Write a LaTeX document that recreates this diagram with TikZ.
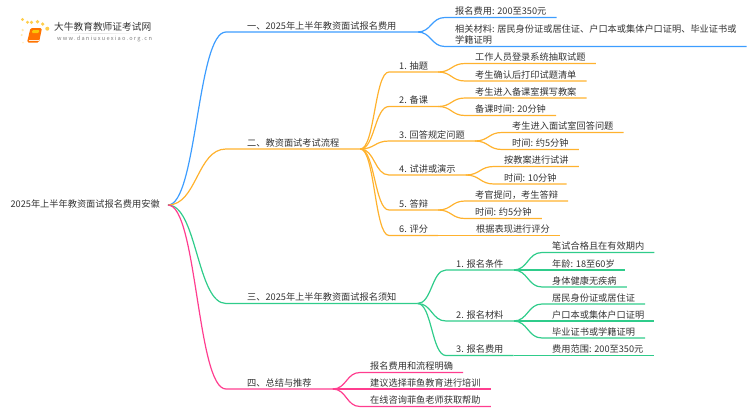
\documentclass[tikz,border=0pt]{standalone}
\usepackage{fontspec}
\setmainfont{Noto Sans CJK SC}
\usetikzlibrary{calc}
\definecolor{bluebr}{HTML}{3D9DFF}
\definecolor{orangebr}{HTML}{FFB22E}
\definecolor{greenbr}{HTML}{2FCC8B}
\definecolor{pinkbr}{HTML}{FF3D8F}
\definecolor{inktext}{HTML}{333333}
\tikzset{
	txt/.style={font=\fontsize{9.2}{11}\selectfont,text=inktext,anchor=south west,text height=7,text depth=2,inner ysep=0.8},
	lvlone/.style={txt,inner xsep=21},
	lvltwo/.style={txt,inner xsep=10},
	link/.style={line width=1.2pt,to path={let \p1=(\tikztostart),\p2=(\tikztotarget) in .. controls ({0.5*(\x1+\x2)},\y1) and ({0.5*(\x1+\x2)},\y2) .. (\tikztotarget)}}
}

\begin{document}
\begin{tikzpicture}[x=1pt,y=-1pt]
		\useasboundingbox (0,0) rectangle (750,410);
		% logo
		\fill[orange!55!yellow!70] (22.5,19.5) circle [radius=1.6];
		\fill[orange!55!yellow!70] (27.5,22.3) circle [radius=1.6];
		\fill[orange!55!yellow!70] (31.5,22.3) circle [radius=1.8];
		\fill[orange!55!yellow!70] (37.5,21.7) circle [radius=1.8];
		\fill[orange!55!yellow!70] (42.7,24) circle [radius=1.8];
		\fill[orange!55!yellow!70] (47.3,28.7) circle [radius=2];
		\fill[orange!55!yellow!30] (22.7,30) circle [radius=1.3];
		\fill[orange!55!yellow!30] (21.7,35) circle [radius=1.2];
		\fill[orange!55!yellow!20] (23,42.5) circle [radius=1];
		\fill[rounded corners=1.5,orange!90!red] (30.5,28) -- (42,28) -- (39,42.5) -- (27,42.5) -- cycle;
		\fill[rounded corners=1,yellow!60!orange] (32.5,30) -- (39.5,30) -- (38.7,33) -- (31.7,33) -- cycle;
		\draw[white!85!orange,line width=0.6pt] (28.5,40) -- (38.5,40);
		\fill[left color=white,right color=white,middle color=black!12] (60,33) rectangle (135,33.7);
		\node[font=\fontsize{9.7}{11}\selectfont,text=inktext,anchor=west,inner sep=0] (logotitle) at (54,27) {大牛教育教师证考试网};
		\node[font=\fontsize{5.6}{7}\selectfont\addfontfeature{LetterSpace=22},text=black!50,anchor=west,inner sep=0] (logourl) at (57,39) {www.daniuxuexiao.org.cn};

		\node[txt,anchor=east,inner xsep=8,inner ysep=0] (root) at (168,205) {2025年上半年教资面试报名费用安徽};

		% first branch
		\node[lvlone] (fee) at (226,32) {一、2025年上半年教资面试报名费用};
		\node[lvltwo] (feeval) at (445,17.5) {报名费用: 200至350元};
		\node[lvltwo,align=left,text height=18] (feedoc) at (445,46.5) {相关材料: 居民身份证或居住证、户口本或集体户口证明、毕业证书或\\学籍证明};
		\draw[link,bluebr] (root.east) to (fee.south west) -- (fee.south east);
		\draw[link,bluebr] (fee.south east) to (feeval.south west) -- (feeval.south east);
		\draw[link,bluebr] (fee.south east) to (feedoc.south west) -- (feedoc.south east);

		% second branch
		\node[lvlone] (flow) at (226,149) {二、教资面试考试流程};
		\node[lvltwo] (draw) at (389,72) {1. 抽题};
		\node[lvltwo] (drawa) at (465,63.5) {工作人员登录系统抽取试题};
		\node[lvltwo] (drawb) at (465,81) {考生确认后打印试题清单};
		\node[lvltwo] (prep) at (389,106.5) {2. 备课};
		\node[lvltwo] (prepa) at (465,98) {考生进入备课室撰写教案};
		\node[lvltwo] (prepb) at (465,115.5) {备课时间: 20分钟};
		\node[lvltwo] (answer) at (389,141) {3. 回答规定问题};
		\node[lvltwo] (answera) at (502,132.5) {考生进入面试室回答问题};
		\node[lvltwo] (answerb) at (502,149.5) {时间: 约5分钟};
		\node[lvltwo] (talk) at (389,175) {4. 试讲或演示};
		\node[lvltwo] (talka) at (494,166.5) {按教案进行试讲};
		\node[lvltwo] (talkb) at (494,184) {时间: 10分钟};
		\node[lvltwo] (defend) at (389,210) {5. 答辩};
		\node[lvltwo] (defenda) at (465,201) {考官提问，考生答辩};
		\node[lvltwo] (defendb) at (465,218.5) {时间: 约5分钟};
		\node[lvltwo] (score) at (389,235.5) {6. 评分};
		\node[lvltwo] (scorea) at (466,235.5) {根据表现进行评分};
		\draw[link,orangebr] (root.east) to (flow.south west) -- (flow.south east);
		\draw[link,orangebr] (flow.south east) to (draw.south west) -- (draw.south east);
		\draw[link,orangebr] (flow.south east) to (prep.south west) -- (prep.south east);
		\draw[link,orangebr] (flow.south east) to (answer.south west) -- (answer.south east);
		\draw[link,orangebr] (flow.south east) to (talk.south west) -- (talk.south east);
		\draw[link,orangebr] (flow.south east) to (defend.south west) -- (defend.south east);
		\draw[link,orangebr] (flow.south east) to (score.south west) -- (score.south east);
		\draw[link,orangebr] (draw.south east) to (drawa.south west) -- (drawa.south east);
		\draw[link,orangebr] (draw.south east) to (drawb.south west) -- (drawb.south east);
		\draw[link,orangebr] (prep.south east) to (prepa.south west) -- (prepa.south east);
		\draw[link,orangebr] (prep.south east) to (prepb.south west) -- (prepb.south east);
		\draw[link,orangebr] (answer.south east) to (answera.south west) -- (answera.south east);
		\draw[link,orangebr] (answer.south east) to (answerb.south west) -- (answerb.south east);
		\draw[link,orangebr] (talk.south east) to (talka.south west) -- (talka.south east);
		\draw[link,orangebr] (talk.south east) to (talkb.south west) -- (talkb.south east);
		\draw[link,orangebr] (defend.south east) to (defenda.south west) -- (defenda.south east);
		\draw[link,orangebr] (defend.south east) to (defendb.south west) -- (defendb.south east);
		\draw[line width=1.2pt,orangebr] (score.south east) -- (scorea.south west) -- (scorea.south east);

		% third branch
		\node[lvlone] (notice) at (226,303.5) {三、2025年上半年教资面试报名须知};
		\node[lvltwo] (cond) at (446,270) {1. 报名条件};
		\node[lvltwo] (conda) at (542,252.5) {笔试合格且在有效期内};
		\node[lvltwo] (condb) at (542,270) {年龄: 18至60岁};
		\node[lvltwo] (condc) at (542,287) {身体健康无疾病};
		\node[lvltwo] (mat) at (446,321) {2. 报名材料};
		\node[lvltwo] (mata) at (542,304) {居民身份证或居住证};
		\node[lvltwo] (matb) at (542,321) {户口本或集体户口证明};
		\node[lvltwo] (matc) at (542,338) {毕业证书或学籍证明};
		\node[lvltwo] (cost) at (446,355.5) {3. 报名费用};
		\node[lvltwo] (costa) at (542,355.5) {费用范围: 200至350元};
		\draw[link,greenbr] (root.east) to (notice.south west) -- (notice.south east);
		\draw[link,greenbr] (notice.south east) to (cond.south west) -- (cond.south east);
		\draw[link,greenbr] (notice.south east) to (mat.south west) -- (mat.south east);
		\draw[link,greenbr] (notice.south east) to (cost.south west) -- (cost.south east);
		\draw[link,greenbr] (cond.south east) to (conda.south west) -- (conda.south east);
		\draw[link,greenbr] (cond.south east) to (condb.south west) -- (condb.south east);
		\draw[link,greenbr] (cond.south east) to (condc.south west) -- (condc.south east);
		\draw[link,greenbr] (mat.south east) to (mata.south west) -- (mata.south east);
		\draw[link,greenbr] (mat.south east) to (matb.south west) -- (matb.south east);
		\draw[link,greenbr] (mat.south east) to (matc.south west) -- (matc.south east);
		\draw[line width=1.2pt,greenbr] (cost.south east) -- (costa.south west) -- (costa.south east);

		% fourth branch
		\node[lvlone] (sumup) at (226,389) {四、总结与推荐};
		\node[lvltwo] (sumupa) at (360,372.5) {报名费用和流程明确};
		\node[lvltwo] (sumupb) at (360,389) {建议选择菲鱼教育进行培训};
		\node[lvltwo] (sumupc) at (360,406.5) {在线咨询菲鱼老师获取帮助};
		\draw[link,pinkbr] (root.east) to (sumup.south west) -- (sumup.south east);
		\draw[link,pinkbr] (sumup.south east) to (sumupa.south west) -- (sumupa.south east);
		\draw[link,pinkbr] (sumup.south east) to (sumupb.south west) -- (sumupb.south east);
		\draw[link,pinkbr] (sumup.south east) to (sumupc.south west) -- (sumupc.south east);
\end{tikzpicture}
\end{document}
